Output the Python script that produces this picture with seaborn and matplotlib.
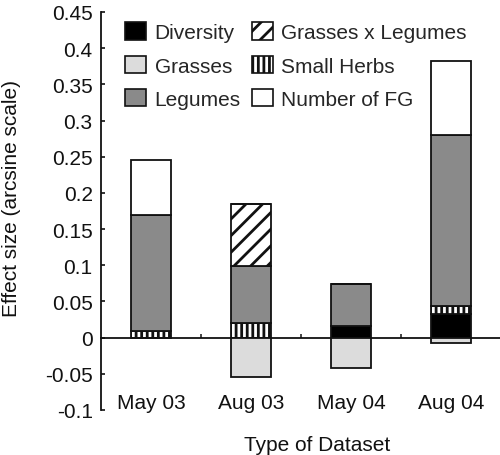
import matplotlib
matplotlib.use("Agg")
import matplotlib.pyplot as plt
from matplotlib.patches import Patch
import numpy as np
import seaborn as sns

# ---- data ----
categories = ["May 03", "Aug 03", "May 04", "Aug 04"]
diversity = [0.0, 0.0, 0.016, 0.032]
small_herbs = [0.009, 0.020, 0.0, 0.012]
legumes = [0.160, 0.079, 0.058, 0.236]
grasses_x_legumes = [0.0, 0.086, 0.0, 0.0]
number_of_fg = [0.076, 0.0, 0.0, 0.102]
grasses = [0.0, -0.055, -0.042, -0.008]

y_ticks = [-0.1, -0.05, 0, 0.05, 0.1, 0.15, 0.2, 0.25, 0.3, 0.35, 0.4, 0.45]
y_tick_labels = ["-0.1", "-0.05", "0", "0.05", "0.1", "0.15", "0.2", "0.25",
                 "0.3", "0.35", "0.4", "0.45"]

sns.set_style("ticks")
plt.rcParams["font.family"] = ["Liberation Sans", "DejaVu Sans"]
plt.rcParams["hatch.linewidth"] = 2.0

fig = plt.figure(figsize=(5.0, 4.56), dpi=100)
ax = fig.add_axes([101 / 500, 1 - 411 / 456, 400 / 500, 398 / 456])

edge = "#111111"
lw = 1.3
series = [
    ("Diversity", diversity, "#000000", None),
    ("Small Herbs", small_herbs, "white", "|||"),
    ("Legumes", legumes, "#8a8a8a", None),
    ("Grasses x Legumes", grasses_x_legumes, "white", "//"),
    ("Number of FG", number_of_fg, "white", None),
]
bottom = np.zeros(len(categories))
for name, vals, col, hatch in series:
    vals = np.asarray(vals, dtype=float)
    sns.barplot(x=categories, y=vals, bottom=bottom, color=col, saturation=1,
                edgecolor=edge, linewidth=lw, hatch=hatch, width=0.4, ax=ax,
                errorbar=None)
    bottom = bottom + vals

sns.barplot(x=categories, y=grasses, color="#dcdcdc", saturation=1,
            edgecolor=edge, linewidth=lw, width=0.4, ax=ax, errorbar=None)

ax.set_xlim(-0.5, len(categories) - 0.5)
ax.set_ylim(y_ticks[0], y_ticks[-1])
ax.set_yticks(y_ticks)
ax.set_yticklabels(y_tick_labels)

for s in ["top", "right", "bottom"]:
    ax.spines[s].set_visible(False)
ax.spines["left"].set_linewidth(1.3)
ax.spines["left"].set_color("#111111")
ax.tick_params(axis="y", direction="in", length=3, width=1.2, pad=6,
               labelsize=15, colors="#111111")
ax.tick_params(axis="x", length=0, pad=-12, labelsize=15, colors="#111111")

# zero axis line with category boundary ticks
sec = ax.secondary_xaxis(0, transform=ax.transData)
sec.spines["bottom"].set_linewidth(1.3)
sec.spines["bottom"].set_color("#111111")
sec.set_xticks(np.arange(0.5, len(categories) - 0.5, 1.0))
sec.tick_params(axis="x", direction="in", length=3, width=1.2, labelbottom=False)

ax.set_ylabel("Effect size (arcsine scale)", fontsize=15, color="#111111")
ax.yaxis.set_label_coords(-0.2, 0.535)
ax.set_xlabel("Type of Dataset", fontsize=15, color="#111111")
ax.xaxis.set_label_coords(0.54, -0.062)

handles = [
    Patch(facecolor="#000000", edgecolor=edge, linewidth=1.2, label="Diversity"),
    Patch(facecolor="#dcdcdc", edgecolor=edge, linewidth=1.2, label="Grasses"),
    Patch(facecolor="#8a8a8a", edgecolor=edge, linewidth=1.2, label="Legumes"),
    Patch(facecolor="white", edgecolor=edge, linewidth=1.2, hatch="//",
          label="Grasses x Legumes"),
    Patch(facecolor="white", edgecolor=edge, linewidth=1.2, hatch="|||",
          label="Small Herbs"),
    Patch(facecolor="white", edgecolor=edge, linewidth=1.2, label="Number of FG"),
]
ax.legend(handles=handles, ncol=2, frameon=False, fontsize=15,
          loc="upper left", bbox_to_anchor=(0.04, 0.995),
          handlelength=1.0, handleheight=0.9, handletextpad=0.4,
          columnspacing=0.55, labelspacing=0.65, borderaxespad=0.0)

fig.savefig("out.png", dpi=100)
